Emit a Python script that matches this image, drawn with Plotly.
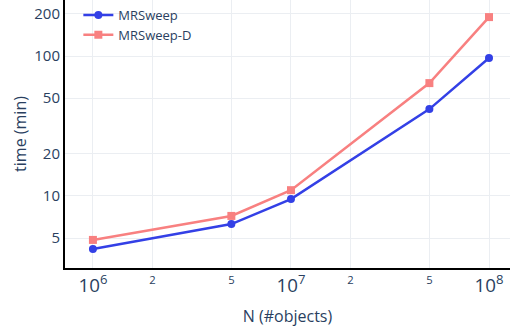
import plotly.graph_objects as go

n_objects = [1e6, 5e6, 1e7, 5e7, 1e8]
mrsweep = [4.18, 6.3, 9.5, 41.8, 96.8]
mrsweep_d = [4.85, 7.2, 11.0, 64.1, 190]
y_ticks = [5, 10, 20, 50, 100, 200]

fig = go.Figure()
fig.add_trace(go.Scatter(x=n_objects, y=mrsweep, mode="lines+markers", name="MRSweep",
                         line=dict(color="#3340e6", width=2.5),
                         marker=dict(symbol="circle", size=8, color="#3340e6")))
fig.add_trace(go.Scatter(x=n_objects, y=mrsweep_d, mode="lines+markers", name="MRSweep-D",
                         line=dict(color="#f88080", width=2.5),
                         marker=dict(symbol="square", size=8, color="#f88080")))

fig.update_layout(
    width=510, height=329,
    template="plotly_white",
    margin=dict(l=65, r=0, t=0, b=61),
    font=dict(family="Open Sans", color="#2a3f5f", size=14),
    legend=dict(x=0.03, y=1.0, xanchor="left", yanchor="top", font=dict(size=13),
                bgcolor="rgba(0,0,0,0)"),
)
fig.update_xaxes(type="log", range=[5.859, 8.106], dtick="D2", exponentformat="power",
                 showline=True, linecolor="black", linewidth=2,
                 gridcolor="#ebeef2", title=dict(text="N (#objects)", font=dict(size=16)),
                 tickfont=dict(size=15), zeroline=False)
fig.update_yaxes(type="log", range=[0.485, 2.401], tickvals=y_ticks,
                 showline=True, linecolor="black", linewidth=2,
                 gridcolor="#ebeef2",
                 title=dict(text="time (min)", font=dict(size=16), standoff=4),
                 tickfont=dict(size=15), zeroline=False)

fig.write_html("out.html")
